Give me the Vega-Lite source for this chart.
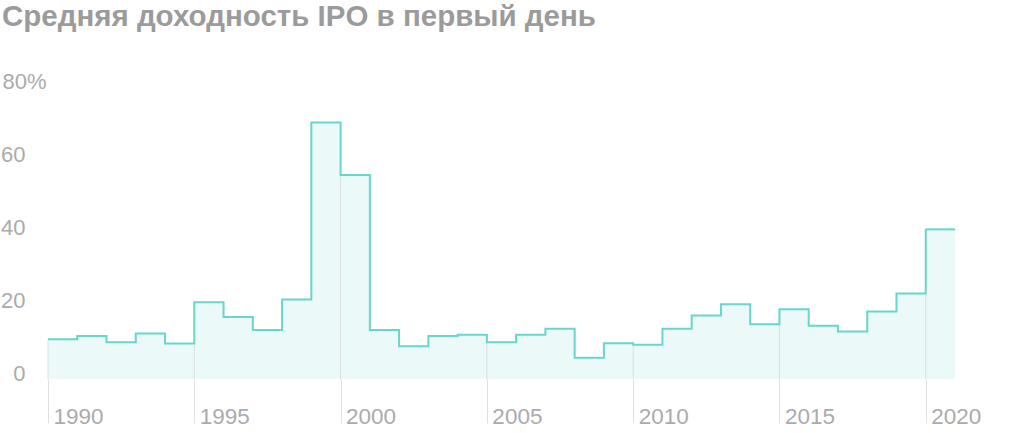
{
  "$schema": "https://vega.github.io/schema/vega-lite/v6.json",
  "autosize": "none",
  "width": 907,
  "height": 292,
  "padding": {"left": 48, "top": 87, "right": 69, "bottom": 54},
  "background": "white",
  "title": {
    "text": "Средняя доходность IPO в первый день",
    "anchor": "start",
    "frame": "group",
    "font": "Liberation Sans",
    "fontSize": 29.5,
    "fontWeight": "bold",
    "color": "#9b9b9b",
    "baseline": "alphabetic",
    "offset": 15,
    "dx": -46
  },
  "data": {
    "values": [
      {"year": 1990, "value": 10.9},
      {"year": 1991, "value": 11.8},
      {"year": 1992, "value": 10.1},
      {"year": 1993, "value": 12.5},
      {"year": 1994, "value": 9.7},
      {"year": 1995, "value": 21.0},
      {"year": 1996, "value": 17.0},
      {"year": 1997, "value": 13.4},
      {"year": 1998, "value": 21.8},
      {"year": 1999, "value": 70.3},
      {"year": 2000, "value": 55.9},
      {"year": 2001, "value": 13.4},
      {"year": 2002, "value": 9.0},
      {"year": 2003, "value": 11.8},
      {"year": 2004, "value": 12.1},
      {"year": 2005, "value": 10.1},
      {"year": 2006, "value": 12.1},
      {"year": 2007, "value": 13.8},
      {"year": 2008, "value": 5.8},
      {"year": 2009, "value": 9.8},
      {"year": 2010, "value": 9.4},
      {"year": 2011, "value": 13.8},
      {"year": 2012, "value": 17.4},
      {"year": 2013, "value": 20.5},
      {"year": 2014, "value": 15.0},
      {"year": 2015, "value": 19.1},
      {"year": 2016, "value": 14.6},
      {"year": 2017, "value": 13.0},
      {"year": 2018, "value": 18.5},
      {"year": 2019, "value": 23.4},
      {"year": 2020, "value": 41.0}
    ]
  },
  "encoding": {
    "x": {
      "field": "year",
      "type": "quantitative",
      "scale": {"domain": [1990, 2021], "nice": false, "zero": false},
      "axis": {
        "title": null,
        "values": [1990, 1995, 2000, 2005, 2010, 2015, 2020],
        "format": "d",
        "domain": false,
        "grid": false,
        "ticks": true,
        "tickSize": 44,
        "tickColor": "#e0e0e0",
        "tickWidth": 1,
        "labelAlign": "left",
        "labelBaseline": "alphabetic",
        "labelPadding": 0,
        "labelOffset": 5,
        "labelFont": "Liberation Sans",
        "labelFontSize": 22.5,
        "labelColor": "#ababab",
        "labelFlush": false,
        "labelOverlap": false
      }
    },
    "y": {
      "field": "value",
      "type": "quantitative",
      "scale": {"domain": [0, 80], "nice": false},
      "axis": {
        "title": null,
        "values": [0, 20, 40, 60, 80],
        "domain": false,
        "grid": false,
        "ticks": false,
        "labelExpr": "datum.value == 80 ? '80%' : datum.label",
        "labelAlign": {"condition": {"test": "datum.value == 80", "value": "left"}, "value": "right"},
        "labelPadding": {"condition": {"test": "datum.value == 80", "value": 46}, "value": 23},
        "labelBaseline": "alphabetic",
        "labelOffset": 1.5,
        "labelFont": "Liberation Sans",
        "labelFontSize": 22,
        "labelColor": "#ababab"
      }
    }
  },
  "layer": [
    {
      "mark": {"type": "area", "interpolate": "step-after", "color": "#ebf9f9"}
    },
    {
      "transform": [{"filter": "datum.year == 2020"}],
      "mark": {"type": "rect", "color": "#ebf9f9"},
      "encoding": {"x2": {"datum": 2021}, "y2": {"datum": 0}}
    },
    {
      "transform": [{"filter": "datum.year % 5 == 0"}],
      "mark": {"type": "rule", "color": "#dedede", "strokeWidth": 1},
      "encoding": {"y2": {"datum": 0}}
    },
    {
      "mark": {"type": "line", "interpolate": "step-after", "color": "#68d6ca", "strokeWidth": 2}
    },
    {
      "transform": [{"filter": "datum.year == 2020"}],
      "mark": {"type": "rule", "color": "#68d6ca", "strokeWidth": 2},
      "encoding": {"x2": {"datum": 2021}}
    }
  ],
  "config": {"view": {"stroke": null}}
}
